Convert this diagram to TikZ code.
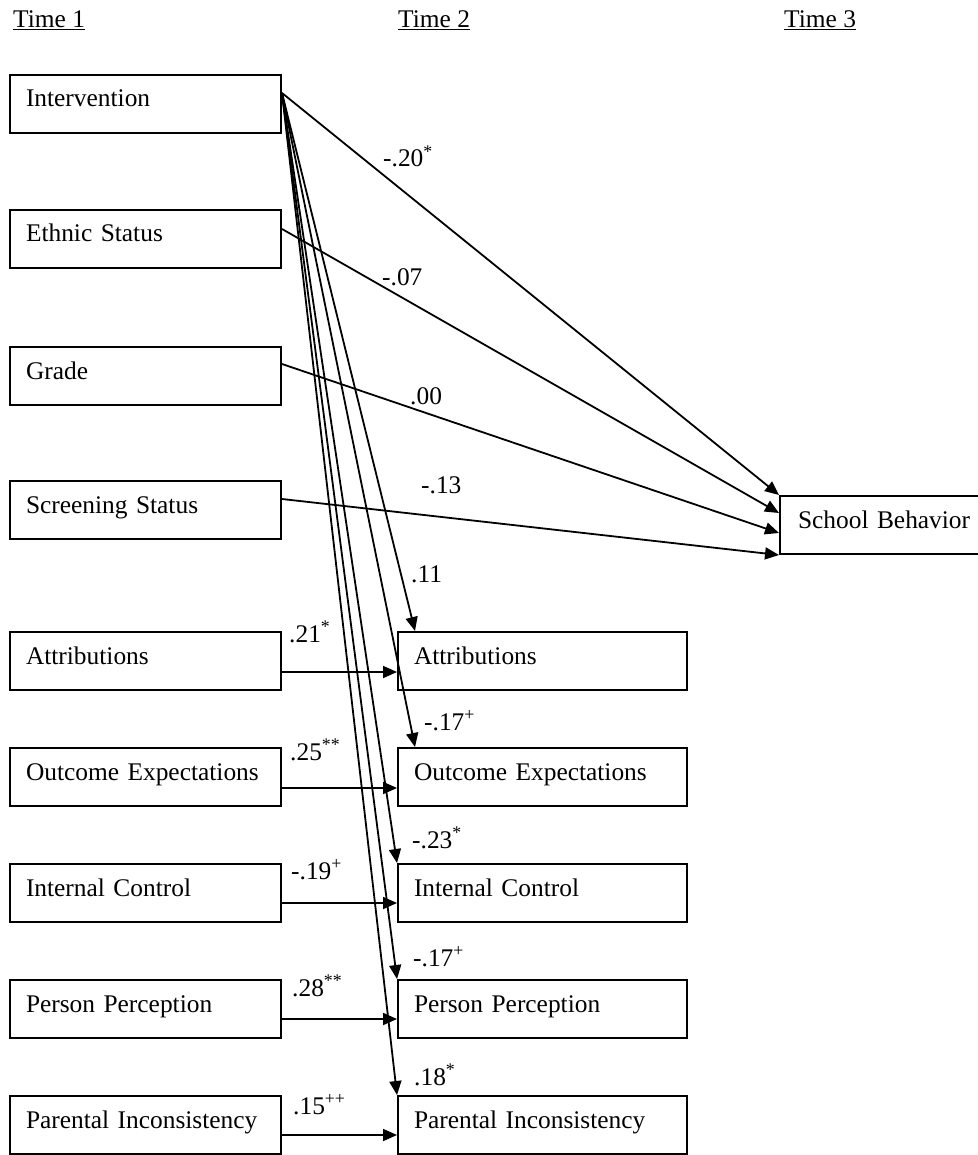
\documentclass[tikz,border=0pt]{standalone}
\usepackage{fontspec}
\setmainfont{Liberation Serif}
\usetikzlibrary{arrows.meta}

\begin{document}
\begin{tikzpicture}[x=1pt, y=-1pt, node distance=116pt,
  every node/.style={font=\fontsize{25.4}{30}\selectfont},
  var/.style={draw, line width=2pt, align=left, inner xsep=16pt, inner ysep=15pt,
    text height=17pt, text depth=11pt},
  leftvar/.style={var, text width=239pt},
  rightvar/.style={var, text width=257pt},
  lbl/.style={anchor=base west, inner sep=0pt},
  link/.style={-{Triangle[length=14pt,width=12pt]}, line width=1.8pt}]
  \useasboundingbox (0,0) rectangle (977,1155);

  % Headers
  \node[lbl] (time1) at (13,28) {\underline{Time 1}};
  \node[lbl] (time2) at (398,28) {\underline{Time 2}};
  \node[lbl] (time3) at (784,28) {\underline{Time 3}};

  % Time 1 nodes
  \node[leftvar] (int) at (145.5,104) {Intervention};
  \node[leftvar, below of=int, node distance=135pt] (eth) {Ethnic Status};
  \node[leftvar, below of=eth, node distance=137pt] (grade) {Grade};
  \node[leftvar, below of=grade, node distance=134pt] (scr) {Screening Status};
  \node[leftvar, below of=scr, node distance=151pt] (attr1) {Attributions};
  \node[leftvar, below of=attr1] (outc1) {Outcome Expectations};
  \node[leftvar, below of=outc1] (ic1) {Internal Control};
  \node[leftvar, below of=ic1] (pp1) {Person Perception};
  \node[leftvar, below of=pp1] (pi1) {Parental Inconsistency};

  % Time 2 nodes
  \node[rightvar, right of=attr1, node distance=397pt] (attr2) {Attributions};
  \node[rightvar, right of=outc1, node distance=397pt] (outc2) {Outcome Expectations};
  \node[rightvar, right of=ic1, node distance=397pt] (ic2) {Internal Control};
  \node[rightvar, right of=pp1, node distance=397pt] (pp2) {Person Perception};
  \node[rightvar, right of=pi1, node distance=397pt] (pi2) {Parental Inconsistency};

  % Time 3 node
  \node[var, text width=200pt, inner xsep=18pt] (sb) at (898,525) {School Behavior};

  % Edges
  \coordinate (intout) at ([yshift=11pt]int.east);
  \draw[link] (intout) -- (sb.north west);
  \draw[link] ([yshift=10pt]eth.east) -- ([yshift=12pt]sb.west);
  \draw[link] ([yshift=12pt]grade.east) -- ([yshift=-8pt]sb.west);
  \draw[link] ([yshift=11pt]scr.east) -- (sb.south west);
  \draw[link] (intout) -- ([xshift=18pt]attr2.north west);
  \draw[link] (intout) -- ([xshift=18pt]outc2.north west);
  \draw[link] (intout) -- (ic2.north west);
  \draw[link] (intout) -- (pp2.north west);
  \draw[link] (intout) -- (pi2.north west);
  \draw[link] ([yshift=-11pt]attr1.east) -- ([yshift=-11pt]attr2.west);
  \draw[link] ([yshift=-11pt]outc1.east) -- ([yshift=-11pt]outc2.west);
  \draw[link] ([yshift=-10pt]ic1.east) -- ([yshift=-10pt]ic2.west);
  \draw[link] ([yshift=-10pt]pp1.east) -- ([yshift=-10pt]pp2.west);
  \draw[link] ([yshift=-10pt]pi1.east) -- ([yshift=-10pt]pi2.west);

  % Path coefficients
  \node[lbl] (cint) at (383,167) {-.20\textsuperscript{*}};
  \node[lbl] (ceth) at (382,286) {-.07};
  \node[lbl] (cgrade) at (410,404) {.00};
  \node[lbl] (cscr) at (421,493) {-.13};
  \node[lbl] (cattr2) at (411,582) {.11};
  \node[lbl] (cattr1) at (289,642) {.21\textsuperscript{*}};
  \node[lbl] (coutc2) at (424,730) {-.17\textsuperscript{+}};
  \node[lbl] (coutc1) at (290,760) {.25\textsuperscript{**}};
  \node[lbl] (cic2) at (412,848) {-.23\textsuperscript{*}};
  \node[lbl] (cic1) at (291,879) {-.19\textsuperscript{+}};
  \node[lbl] (cpp2) at (413,966) {-.17\textsuperscript{+}};
  \node[lbl] (cpp1) at (292,996) {.28\textsuperscript{**}};
  \node[lbl] (cpi2) at (414,1085) {.18\textsuperscript{*}};
  \node[lbl] (cpi1) at (293,1114) {.15\textsuperscript{++}};
\end{tikzpicture}
\end{document}
